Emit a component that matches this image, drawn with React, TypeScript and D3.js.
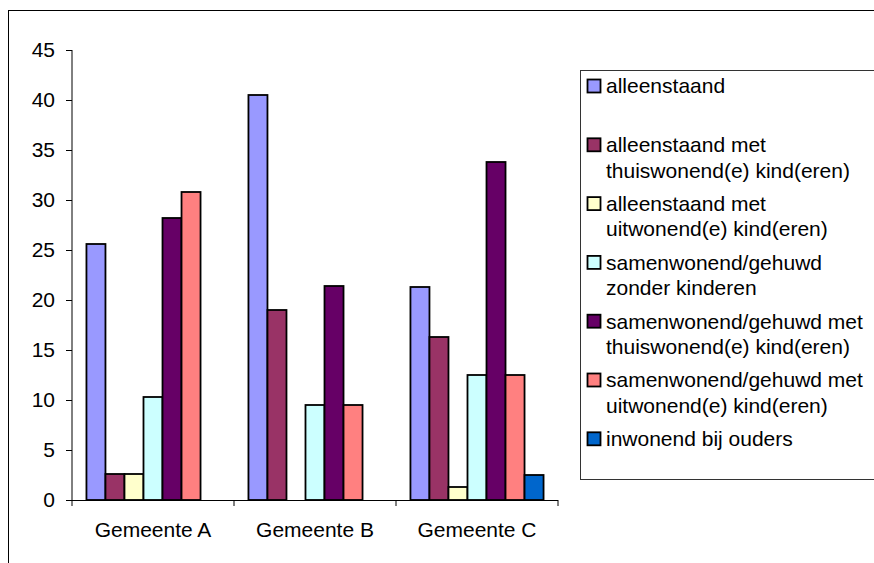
import * as d3 from 'd3';

const categories = ['Gemeente A', 'Gemeente B', 'Gemeente C'];

const seriesNames = [
  'alleenstaand',
  'alleenstaand met thuiswonend(e) kind(eren)',
  'alleenstaand met uitwonend(e) kind(eren)',
  'samenwonend/gehuwd zonder kinderen',
  'samenwonend/gehuwd met thuiswonend(e) kind(eren)',
  'samenwonend/gehuwd met uitwonend(e) kind(eren)',
  'inwonend bij ouders',
];

// legend label lines as shown in the picture
const legendLines = [
  ['alleenstaand', ''],
  ['alleenstaand met', 'thuiswonend(e) kind(eren)'],
  ['alleenstaand met', 'uitwonend(e) kind(eren)'],
  ['samenwonend/gehuwd', 'zonder kinderen'],
  ['samenwonend/gehuwd met', 'thuiswonend(e) kind(eren)'],
  ['samenwonend/gehuwd met', 'uitwonend(e) kind(eren)'],
  ['inwonend bij ouders'],
];

const colors = ['#9999FF', '#993366', '#FFFFCC', '#CCFFFF', '#660066', '#FF8080', '#0066CC'];

// values per series, order: Gemeente A, B, C
const alleenstaand = [25.6, 40.5, 21.3];
const alleenMetThuis = [2.6, 19.0, 16.3];
const alleenMetUit = [2.6, 0, 1.3];
const samenZonder = [10.3, 9.5, 12.5];
const samenMetThuis = [28.2, 21.4, 33.8];
const samenMetUit = [30.8, 9.5, 12.5];
const inwonend = [0, 0, 2.5];

const series = [alleenstaand, alleenMetThuis, alleenMetUit, samenZonder, samenMetThuis, samenMetUit, inwonend];

const yTicks = [0, 5, 10, 15, 20, 25, 30, 35, 40, 45];

const FONT = '"Liberation Sans", Arial, sans-serif';
const FS = 21;

export default function App() {
  const width = 874;
  const height = 563;
  const x0 = 72, x1 = 558, yTop = 50, yBottom = 500;

  const x = d3.scaleBand<string>().domain(categories).range([x0, x1]).paddingInner(0).paddingOuter(0);
  const inner = d3.scaleBand<number>().domain(d3.range(seriesNames.length)).range([0, x.bandwidth()]).paddingInner(0).paddingOuter(0.76);
  const y = d3.scaleLinear().domain([0, 45]).range([yBottom, yTop]);

  const legendX = 580, legendY = 70;
  const entryY = (i: number) => 86 + i * 58.8;

  return (
    <svg width={width} height={height} style={{ position: 'absolute', left: 0, top: 0 }} fontFamily={FONT}>
      <rect x={8.5} y={10.5} width={900} height={600} fill="white" stroke="black" strokeWidth={1} />

      {/* bars */}
      {series.map((vals, si) =>
        vals.map((v, ci) => (v > 0 ? (
          <rect
            key={`${si}-${ci}`}
            x={x(categories[ci])! + inner(si)!}
            y={y(v)}
            width={inner.bandwidth()}
            height={y(0) - y(v)}
            fill={colors[si]}
            stroke="black"
            strokeWidth={1.8}
          />
        ) : null))
      )}

      {/* y axis */}
      <line x1={x0} x2={x0} y1={yTop} y2={yBottom} stroke="black" />
      {yTicks.map(t => (
        <g key={t}>
          <line x1={x0 - 6} x2={x0} y1={Math.round(y(t)) + 0.5} y2={Math.round(y(t)) + 0.5} stroke="black" />
          <text x={55} y={y(t)} dy="0.35em" textAnchor="end" fontSize={FS}>{t}</text>
        </g>
      ))}

      {/* x axis */}
      <line x1={x0} x2={x1} y1={yBottom + 0.5} y2={yBottom + 0.5} stroke="black" />
      {categories.map(c => (
        <line key={c} x1={x(c)!} x2={x(c)!} y1={yBottom} y2={yBottom + 6} stroke="black" />
      ))}
      <line x1={x1} x2={x1} y1={yBottom} y2={yBottom + 6} stroke="black" />
      {categories.map(c => (
        <text key={c} x={x(c)! + x.bandwidth() / 2} y={530} dy="0.35em" textAnchor="middle" fontSize={FS}>{c}</text>
      ))}

      {/* legend */}
      <rect x={legendX + 0.5} y={legendY + 0.5} width={400} height={409} fill="white" stroke="#333" strokeWidth={1} />
      {legendLines.map((lines, i) => (
        <g key={i}>
          <rect x={587.5} y={entryY(i) - 6.5} width={13} height={13} fill={colors[i]} stroke="black" strokeWidth={1.8} />
          {lines.map((l, li) => (
            <text key={li} x={606} y={entryY(i) + li * 25.5} dy="0.35em" fontSize={FS}>{l}</text>
          ))}
        </g>
      ))}
    </svg>
  );
}
